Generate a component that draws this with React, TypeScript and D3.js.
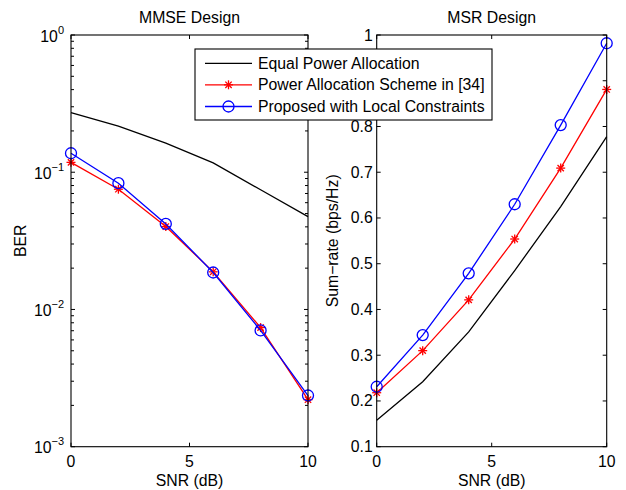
import React from "react";
import * as d3 from "d3";

const snr = [0, 2, 4, 6, 8, 10];
const berEqual = [0.272, 0.217, 0.163, 0.117, 0.0745, 0.0475];
const berScheme34 = [0.118, 0.0752, 0.0402, 0.0188, 0.00738, 0.0022];
const berProposed = [0.1375, 0.0832, 0.042, 0.0186, 0.00703, 0.00236];

const rateEqual = [0.158, 0.242, 0.351, 0.485, 0.625, 0.778];
const rateScheme34 = [0.218, 0.31, 0.421, 0.554, 0.709, 0.881];
const rateProposed = [0.231, 0.344, 0.479, 0.63, 0.803, 0.982];

const xTicks = [0, 5, 10];
const berTicks = [1e-3, 1e-2, 1e-1, 1e0];
const berTickExps = ["−3", "−2", "−1", "0"];
const rateTicks = [0.1, 0.2, 0.3, 0.4, 0.5, 0.6, 0.7, 0.8, 0.9, 1];
const rateTickLabels = ["0.1", "0.2", "0.3", "0.4", "0.5", "0.6", "0.7", "0.8", "0.9", "1"];
const legendLabels = [
  "Equal Power Allocation",
  "Power Allocation Scheme in [34]",
  "Proposed with Local Constraints",
];
const colors = ["#000000", "#ff0000", "#0000ff"];

const FONT = "'Liberation Sans', Arial, Helvetica, sans-serif";
const FS = 15.8;
const TOP = 35;
const BOTTOM = 446.7;
const TL = 4;
const LEG = { x: 195, y: 49, w: 297, h: 71 };

function Star({ x, y, c }: { x: number; y: number; c: string }) {
  const r = 4.5;
  const d = r * 0.7071;
  return (
    <g stroke={c} strokeWidth={1.3}>
      <line x1={x - r} y1={y} x2={x + r} y2={y} />
      <line x1={x} y1={y - r} x2={x} y2={y + r} />
      <line x1={x - d} y1={y - d} x2={x + d} y2={y + d} />
      <line x1={x - d} y1={y + d} x2={x + d} y2={y - d} />
    </g>
  );
}

function Circ({ x, y, c }: { x: number; y: number; c: string }) {
  return <circle cx={x} cy={y} r={5.5} fill="none" stroke={c} strokeWidth={1.3} />;
}

function hiddenByLegend(x: number, y: number) {
  return x > LEG.x && x < LEG.x + LEG.w + 20 && y > LEG.y && y < LEG.y + LEG.h;
}

function Panel({
  x0,
  x1,
  yScale,
  series,
  yTicks,
  yLabels,
  minorTicks,
  title,
  yTitle,
  yTitleX,
  log,
}: any) {
  const xs = d3.scaleLinear().domain([0, 10]).range([x0, x1]);
  const line = d3
    .line<[number, number]>()
    .x((d) => xs(d[0]))
    .y((d) => yScale(d[1]));
  const cx = (x0 + x1) / 2;
  const cy = (TOP + BOTTOM) / 2;
  return (
    <g fontFamily={FONT}>
      <text x={cx} y={23} textAnchor="middle" fontSize={FS}>
        {title}
      </text>
      {series.map((s: number[], i: number) => {
        const pts = snr.map((v, j) => [v, s[j]] as [number, number]);
        return (
          <g key={i}>
            <path d={line(pts) || ""} fill="none" stroke={colors[i]} strokeWidth={1.3} />
            {i === 1 &&
              pts.map((p, j) => <Star key={j} x={xs(p[0])} y={yScale(p[1])} c={colors[i]} />)}
            {i === 2 &&
              pts.map((p, j) => <Circ key={j} x={xs(p[0])} y={yScale(p[1])} c={colors[i]} />)}
          </g>
        );
      })}
      <rect x={x0} y={TOP} width={x1 - x0} height={BOTTOM - TOP} fill="none" stroke="#000" strokeWidth={1.1} />
      {xTicks.map((t) => (
        <g key={t}>
          <line x1={xs(t)} x2={xs(t)} y1={BOTTOM} y2={BOTTOM - TL} stroke="#000" />
          <line x1={xs(t)} x2={xs(t)} y1={TOP} y2={TOP + TL} stroke="#000" />
          <text x={xs(t)} y={466.5} textAnchor="middle" fontSize={FS}>
            {t}
          </text>
        </g>
      ))}
      {yTicks.map((t: number, i: number) => (
        <g key={i}>
          <line x1={x0} x2={x0 + TL} y1={yScale(t)} y2={yScale(t)} stroke="#000" />
          <line x1={x1} x2={x1 - TL} y1={yScale(t)} y2={yScale(t)} stroke="#000" />
          {log ? (
            <text x={x0 - 7} y={yScale(t) + 6.5} textAnchor="end" fontSize={FS}>
              10
              <tspan dy={-8} fontSize={11}>
                {yLabels[i]}
              </tspan>
            </text>
          ) : hiddenByLegend(x0 - 4, yScale(t)) ? null : (
            <text x={x0 - 4} y={yScale(t) + 5.5} textAnchor="end" fontSize={FS}>
              {yLabels[i]}
            </text>
          )}
        </g>
      ))}
      {(minorTicks || []).map((t: number, i: number) => (
        <g key={"m" + i}>
          <line x1={x0} x2={x0 + 3} y1={yScale(t)} y2={yScale(t)} stroke="#000" />
          <line x1={x1} x2={x1 - 3} y1={yScale(t)} y2={yScale(t)} stroke="#000" />
        </g>
      ))}
      <text x={cx} y={486} textAnchor="middle" fontSize={FS}>
        SNR (dB)
      </text>
      <text
        transform={`translate(${yTitleX},${cy}) rotate(-90)`}
        textAnchor="middle"
        fontSize={FS}
      >
        {yTitle}
      </text>
    </g>
  );
}

export default function App() {
  const yLog = d3.scaleLog().domain([1e-3, 1]).range([BOTTOM, TOP]);
  const yLin = d3.scaleLinear().domain([0.1, 1]).range([BOTTOM, TOP]);
  const minor: number[] = [];
  [1e-3, 1e-2, 1e-1].forEach((dec) => {
    for (let k = 2; k <= 9; k++) minor.push(dec * k);
  });
  const rows = [63.3, 84.8, 106.5];
  return (
    <svg width={626} height={490} style={{ position: "absolute", left: 0, top: 0, background: "#fff" }}>
      <rect width={626} height={490} fill="#fff" />
      <Panel
        x0={71}
        x1={308}
        yScale={yLog}
        series={[berEqual, berScheme34, berProposed]}
        yTicks={berTicks}
        yLabels={berTickExps}
        minorTicks={minor}
        title="MMSE Design"
        yTitle="BER"
        yTitleX={26}
        log
      />
      <Panel
        x0={376.7}
        x1={606.7}
        yScale={yLin}
        series={[rateEqual, rateScheme34, rateProposed]}
        yTicks={rateTicks}
        yLabels={rateTickLabels}
        title="MSR Design"
        yTitle="Sum−rate (bps/Hz)"
        yTitleX={338}
      />
      <g fontFamily={FONT}>
        <rect x={LEG.x} y={LEG.y} width={LEG.w} height={LEG.h} fill="#fff" stroke="#000" strokeWidth={1.1} />
        {legendLabels.map((lab, i) => (
          <g key={i}>
            <line x1={205} x2={252} y1={rows[i]} y2={rows[i]} stroke={colors[i]} strokeWidth={1.3} />
            {i === 1 && <Star x={228.5} y={rows[i]} c={colors[i]} />}
            {i === 2 && <Circ x={228.5} y={rows[i]} c={colors[i]} />}
            <text x={258} y={rows[i] + 5.5} fontSize={FS}>
              {lab}
            </text>
          </g>
        ))}
      </g>
    </svg>
  );
}
